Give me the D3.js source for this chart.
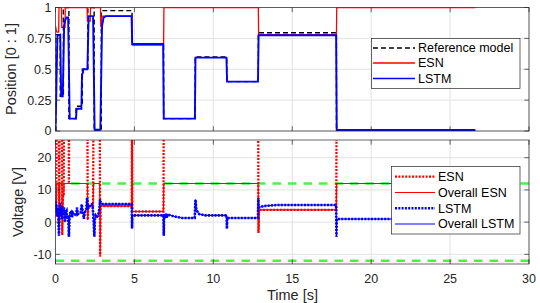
<!DOCTYPE html>
<html><head><meta charset="utf-8">
<script src="https://cdn.jsdelivr.net/npm/d3@7"></script>
<style>body{margin:0;background:#fff}svg{display:block;font-family:"Liberation Sans",Arial,sans-serif}</style>
</head><body><svg id="c" width="540" height="303"></svg>
<script>
// ---------- data ----------
const xTicks = [0, 5, 10, 15, 20, 25, 30];
const posTicks = [0, 0.25, 0.5, 0.75, 1];
const posTickLabels = ["0", "0.25", "0.5", "0.75", "1"];
const voltTicks = [-10, 0, 10, 20];

// Reference model (step starts)
const refT = [0, 0.02, 0.3, 0.5, 0.85, 1.3, 1.7, 2.05, 2.45, 2.9, 4.85, 6.85, 8.85, 10.85, 12.85, 17.8, 26.6];
const refV = [0, 0.78, 0.28, 1.0, 0.1, 0.2, 0.5, 1.0, 0, 0.975, 0.7, 0.1, 0.6, 0.4, 0.795, 0, 0];

// ESN position
const esnPosT = [0, 0.08, 0.2, 0.22, 0.38, 0.4, 0.6, 0.62, 2.0, 2.02, 2.2, 2.22, 2.85, 2.87, 2.95, 4.85, 4.87, 6.85, 6.87, 12.85, 12.87, 17.8, 17.82, 26.6];
const esnPosV = [0.85, 0.8, 0.8, 1, 1, 0.84, 0.84, 1, 1, 0.89, 0.89, 1, 1, 0.84, 0.93, 0.93, 0.695, 0.695, 1, 1, 0.78, 0.78, 1, 1];

// LSTM position
const lstmPosT = [0, 0.05, 0.12, 0.3, 0.36, 0.46, 0.55, 0.62, 0.7, 0.8, 0.9, 1.3, 1.34, 1.64, 1.68, 1.74, 1.76, 2.02, 2.1, 2.38, 2.48, 2.84, 2.95, 3.05, 3.2, 4.82, 4.86, 6.82, 6.86, 8.83, 8.87, 10.83, 10.87, 12.83, 12.87, 17.78, 17.82, 26.6];
const lstmPosV = [0, 0.3, 0.77, 0.78, 0.28, 0.28, 0.86, 0.9, 0.92, 0.92, 0.1, 0.1, 0.18, 0.18, 0.46, 0.47, 0.5, 0.5, 0.93, 0.93, 0.01, 0.01, 0.85, 0.92, 0.93, 0.93, 0.705, 0.705, 0.1, 0.1, 0.594, 0.594, 0.4, 0.4, 0.775, 0.775, 0.008, 0.008];

// ESN voltage (raw) and overall (saturated)
const esnVoltT = [0, 0.05, 0.07, 0.2, 0.24, 0.26, 0.41, 0.43, 0.47, 0.52, 0.54, 0.83, 0.85, 0.87, 2.02, 2.04, 2.08, 2.38, 2.41, 2.8, 2.83, 2.86, 2.9, 4.83, 4.85, 4.87, 6.84, 6.86, 12.84, 12.86, 12.9, 17.79, 17.81, 26.6];
const esnVoltV = [2, 2, 40, 40, 0, 40, 40, -4, 8, 8, 40, 40, 12, 40, 40, 0.7, 5, 5, 40, 40, -10.7, 5, 5, 5, 40, 3.3, 3.3, 40, 40, -3.4, 3.8, 3.8, 40, 40];
const esnOverallV = [2, 2, 12, 12, 0, 12, 12, -4, 8, 8, 12, 12, 12, 12, 12, 0.7, 5, 5, 12, 12, -10.7, 5, 5, 5, 12, 3.3, 3.3, 12, 12, -3.4, 3.8, 3.8, 12, 12];

// LSTM voltage (raw == overall, within limits)
const lstmVoltT = [0, 0.03, 0.06, 0.1, 0.14, 0.18, 0.22, 0.26, 0.3, 0.34, 0.38, 0.42, 0.46, 0.5, 0.55, 0.6, 0.64, 0.7, 0.74, 0.8, 0.85, 0.9, 1.0, 1.05, 1.1, 1.2, 1.3, 1.36, 1.42, 1.5, 1.6, 1.66, 1.72, 1.8, 1.86, 1.95, 2.0, 2.05, 2.1, 2.2, 2.3, 2.36, 2.42, 2.46, 2.5, 2.55, 2.62, 2.7, 2.78, 2.82, 2.86, 2.95, 4.83, 4.85, 4.87, 6.84, 6.86, 6.88, 6.95, 7.0, 7.05, 7.1, 7.5, 8.0, 8.82, 8.87, 8.92, 9.0, 9.1, 9.5, 10.84, 10.86, 10.88, 12.83, 12.85, 12.87, 13.2, 14.0, 17.78, 17.8, 17.82, 26.6];
const lstmVoltV = [6.5, 3, 5.5, 2, 4.5, 1, -4.2, 4, 6, 2, 5, 1, 4, 3, 4.5, 0, 3, 3.5, 1, 2, -4.5, 2.5, 3.5, 1.5, 3, 2.5, 2, 4.5, 2.5, 2.8, 3, 5.5, 3.5, 1, 3, 4, 7.5, 4, 5, 5, 5.5, 4.5, 0, -4.5, 1, 2, 1.5, 2, 4, 7, 6, 5.6, 5.6, -2, 2.1, 2.1, -4.2, 2.5, 1.2, 2.6, 1.3, 2.4, 1.8, 1.3, 1.3, 7, 4, 3.2, 2.5, 2.1, 2.1, -2, 1.3, 1.3, 7.5, 4.5, 5.0, 5.3, 5.3, -4.5, 0.95, 0.95];
const lstmOverallV = lstmVoltV.slice();

const limitT = [0, 30];
const limitHi = [12, 12];
const limitLo = [-12, -12];

// ---------- drawing ----------
const svg = d3.select("#c");
const x = d3.scaleLinear([0, 30], [55.5, 529]);
const yTop = d3.scaleLinear([0, 1], [131, 7.5]);
const yBot = d3.scaleLinear([-13, 25.5], [264, 140]);
const AX = "#262626", TL = 4.7;

function zip(t, v) { return t.map((d, i) => [d, v[i]]); }

function frame(ys, ticks, id) {
  const [x0, x1] = x.range(), [y0, y1] = ys.range();
  const g = svg.append("g");
  g.append("rect").attr("x", x0).attr("y", y1).attr("width", x1 - x0).attr("height", y0 - y1).attr("fill", "#fff");
  g.selectAll(null).data(xTicks).join("line")
    .attr("x1", d => x(d)).attr("x2", d => x(d)).attr("y1", y0).attr("y2", y1)
    .attr("stroke", "#e2e2e2").attr("stroke-width", 1);
  g.selectAll(null).data(ticks).join("line")
    .attr("y1", d => ys(d)).attr("y2", d => ys(d)).attr("x1", x0).attr("x2", x1)
    .attr("stroke", "#e2e2e2").attr("stroke-width", 1);
  svg.append("clipPath").attr("id", id).append("rect")
    .attr("x", x0).attr("y", y1).attr("width", x1 - x0).attr("height", y0 - y1);
  return g;
}

function box(ys, ticks, labels, showX) {
  const [x0, x1] = x.range(), [y0, y1] = ys.range();
  const g = svg.append("g");
  xTicks.forEach(t => {
    g.append("line").attr("x1", x(t)).attr("x2", x(t)).attr("y1", y0).attr("y2", y0 - TL).attr("stroke", AX).attr("stroke-width", 0.7);
    g.append("line").attr("x1", x(t)).attr("x2", x(t)).attr("y1", y1).attr("y2", y1 + TL).attr("stroke", AX).attr("stroke-width", 0.7);
  });
  ticks.forEach(t => {
    g.append("line").attr("y1", ys(t)).attr("y2", ys(t)).attr("x1", x0).attr("x2", x0 + TL).attr("stroke", AX).attr("stroke-width", 0.7);
    g.append("line").attr("y1", ys(t)).attr("y2", ys(t)).attr("x1", x1).attr("x2", x1 - TL).attr("stroke", AX).attr("stroke-width", 0.7);
  });
  g.append("rect").attr("x", x0).attr("y", y1).attr("width", x1 - x0).attr("height", y0 - y1)
    .attr("fill", "none").attr("stroke", AX).attr("stroke-width", 0.7);
  g.selectAll(null).data(ticks).join("text")
    .attr("x", x0 - 4).attr("y", d => ys(d) + 4.4).attr("text-anchor", "end")
    .attr("font-size", 12.5).attr("fill", AX).text((d, i) => labels[i]);
  if (showX) {
    g.selectAll(null).data(xTicks).join("text")
      .attr("x", d => x(d)).attr("y", y0 + 19).attr("text-anchor", "middle")
      .attr("font-size", 12.5).attr("fill", AX).text(d => d);
  }
}

function line(ys, data, color, width, dash, clip, curve) {
  const gen = d3.line().x(d => x(d[0])).y(d => ys(d[1])).curve(curve || d3.curveLinear);
  const p = svg.append("path").attr("d", gen(data)).attr("fill", "none")
    .attr("stroke", color).attr("stroke-width", width).attr("clip-path", `url(#${clip})`)
    .attr("stroke-linejoin", "miter");
  if (dash) p.attr("stroke-dasharray", dash);
  return p;
}

// top plot
frame(yTop, posTicks, "cTop");
line(yTop, zip(refT, refV), "#000", 1.4, "5,3", "cTop", d3.curveStepAfter);
line(yTop, zip(esnPosT, esnPosV), "#ff0000", 1.3, null, "cTop");
line(yTop, zip(lstmPosT, lstmPosV), "#0000ff", 1.9, null, "cTop");
box(yTop, posTicks, posTickLabels, false);

// bottom plot
frame(yBot, voltTicks, "cBot");
line(yBot, zip(limitT, limitHi), "#4cf04c", 2.4, "8.5,7", "cBot");
line(yBot, zip(limitT, limitLo), "#4cf04c", 2.4, "8.5,7", "cBot");
line(yBot, zip(esnVoltT, esnOverallV), "#ff0000", 1.2, null, "cBot");
line(yBot, zip(esnVoltT, esnVoltV), "#ff0000", 2.3, "2,1.4", "cBot");
line(yBot, zip(lstmVoltT, lstmVoltV), "#0000ff", 2.6, "2,1.3", "cBot");
line(yBot, zip(lstmVoltT, lstmOverallV), "#0000ff", 1.1, null, "cBot");
box(yBot, voltTicks, voltTicks.map(String), true);

// axis labels
svg.append("text").attr("transform", "translate(15.5,69) rotate(-90)").attr("text-anchor", "middle")
  .attr("font-size", 14.5).attr("fill", AX).text("Position [0 : 1]");
svg.append("text").attr("transform", "translate(22.5,202) rotate(-90)").attr("text-anchor", "middle")
  .attr("font-size", 14.5).attr("fill", AX).text("Voltage [V]");
svg.append("text").attr("x", 292.5).attr("y", 300).attr("text-anchor", "middle")
  .attr("font-size", 14.5).attr("fill", AX).text("Time [s]");

// legends
function legend(x0, y0, w, h, items, sx0, sx1, tx) {
  const g = svg.append("g");
  g.append("rect").attr("x", x0).attr("y", y0).attr("width", w).attr("height", h)
    .attr("fill", "#fff").attr("stroke", AX).attr("stroke-width", 0.7);
  items.forEach(it => {
    const l = g.append("line").attr("x1", sx0).attr("x2", sx1).attr("y1", it.y).attr("y2", it.y)
      .attr("stroke", it.color).attr("stroke-width", it.w);
    if (it.dash) l.attr("stroke-dasharray", it.dash);
    g.append("text").attr("x", tx).attr("y", it.y + 4.4).attr("font-size", 12.5).attr("fill", "#000").text(it.label);
  });
}
legend(371.5, 38.5, 148.5, 50, [
  { label: "Reference model", color: "#000", w: 1.4, dash: "5,3", y: 48 },
  { label: "ESN", color: "#ff0000", w: 1.3, y: 63 },
  { label: "LSTM", color: "#0000ff", w: 1.3, y: 78.5 }
], 373, 415, 418);
legend(391.5, 166.5, 128.5, 67.5, [
  { label: "ESN", color: "#ff0000", w: 2.3, dash: "2,1.4", y: 176.7 },
  { label: "Overall ESN", color: "#ff0000", w: 1.2, y: 192.5 },
  { label: "LSTM", color: "#0000ff", w: 2.6, dash: "2,1.3", y: 208.3 },
  { label: "Overall LSTM", color: "#0000ff", w: 1.2, y: 224 }
], 395, 435, 438);
</script></body></html>
